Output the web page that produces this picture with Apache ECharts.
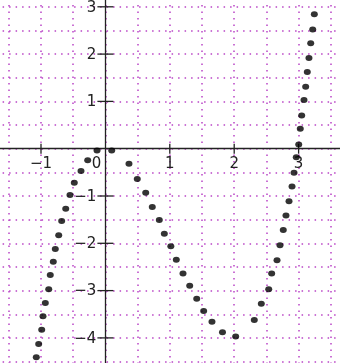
<!DOCTYPE html>
<html>
<head>
<meta charset="utf-8">
<script src="https://cdn.jsdelivr.net/npm/echarts@6/dist/echarts.min.js"></script>
<style>
  html, body { margin: 0; padding: 0; background: #fff; }
  #chart { width: 340px; height: 363px; }
</style>
</head>
<body>
<div id="chart"></div>
<script>
// Sampled points of the cubic, left to right
const xValues = [
  -1.073, -1.036, -0.989, -0.969, -0.933, -0.880, -0.856, -0.809, -0.778, -0.725,
  -0.679, -0.616, -0.550, -0.483, -0.379, -0.275, -0.130, 0.098, 0.366, 0.495,
  0.626, 0.728, 0.837, 0.915, 1.016, 1.101, 1.205, 1.309, 1.418, 1.526,
  1.655, 1.818, 2.023, 2.312, 2.421, 2.536, 2.582, 2.665, 2.711, 2.762,
  2.804, 2.851, 2.898, 2.929, 2.964, 3.002, 3.026, 3.048, 3.084, 3.110,
  3.135, 3.161, 3.188, 3.219, 3.244
];
const yValues = [
  -4.41, -4.13, -3.83, -3.54, -3.26, -2.97, -2.67, -2.39, -2.12, -1.83,
  -1.53, -1.27, -0.98, -0.72, -0.47, -0.245, -0.04, -0.04, -0.32, -0.64,
  -0.93, -1.23, -1.51, -1.80, -2.06, -2.35, -2.64, -2.90, -3.17, -3.43,
  -3.66, -3.88, -3.97, -3.62, -3.28, -2.97, -2.64, -2.36, -2.04, -1.72,
  -1.41, -1.11, -0.80, -0.51, -0.18, 0.09, 0.42, 0.70, 1.03, 1.31,
  1.62, 1.92, 2.23, 2.52, 2.84
];

// Tick labels drawn along the axes through the origin
const xTickValues = [-1, 0, 1, 2, 3];
const yTickValues = [-4, -3, -2, -1, 1, 2, 3];

// Axis ranges (the visible window is trimmed by the grid offsets)
const xRange = [-2, 4];
const yRange = [-5, 4];

const points = xValues.map((x, i) => [x, yValues[i]]);

const minus = v => (v < 0 ? '\u2212' + Math.abs(v) : String(v));

const gridDots = {
  show: true,
  lineStyle: { color: '#b944c6', width: 1.5, type: [1.5, 5] }
};
const INK = '#222';
const FONT = 'DejaVu Sans';
const FONT_SIZE = 15;

// Tick mark crossing the axis plus its label
function xTick(params, api) {
  const v = api.value(0);
  const p = api.coord([v, 0]);
  const children = [];
  if (v !== 0) {
    children.push({
      type: 'line',
      shape: { x1: p[0], y1: p[1] - 5, x2: p[0], y2: p[1] + 5 },
      style: { stroke: INK, lineWidth: 1.3 }
    });
  }
  children.push({
    type: 'text',
    style: {
      text: minus(v),
      x: v === 0 ? p[0] - 9 : p[0],
      y: p[1] + 8,
      align: 'center',
      verticalAlign: 'top',
      fontFamily: FONT,
      fontSize: FONT_SIZE,
      fill: INK
    }
  });
  return { type: 'group', children };
}

function yTick(params, api) {
  const v = api.value(1);
  const p = api.coord([0, v]);
  return {
    type: 'group',
    children: [
      {
        type: 'line',
        shape: { x1: p[0] - 8, y1: p[1], x2: p[0] + 8, y2: p[1] },
        style: { stroke: INK, lineWidth: 1.3 }
      },
      {
        type: 'text',
        style: {
          text: minus(v),
          x: p[0] - 9,
          y: p[1] + 1,
          align: 'right',
          verticalAlign: 'middle',
          fontFamily: FONT,
          fontSize: FONT_SIZE,
          fill: INK
        }
      }
    ]
  };
}

const chart = echarts.init(document.getElementById('chart'), null, { renderer: 'canvas' });

chart.setOption({
  animation: false,
  backgroundColor: '#fff',
  grid: {
    left: -23.4, right: -23, top: -40.5, bottom: -22.2,
    containLabel: false,
    outerBoundsMode: 'none'
  },
  xAxis: {
    type: 'value',
    min: xRange[0], max: xRange[1], interval: 1,
    axisLine: { onZero: true, lineStyle: { color: INK, width: 1.3 } },
    axisTick: { show: false },
    axisLabel: { show: false },
    splitLine: gridDots,
    minorTick: { show: false, splitNumber: 2 },
    minorSplitLine: gridDots
  },
  yAxis: {
    type: 'value',
    min: yRange[0], max: yRange[1], interval: 1,
    axisLine: { onZero: true, lineStyle: { color: INK, width: 1.3 } },
    axisTick: { show: false },
    axisLabel: { show: false },
    splitLine: gridDots,
    minorTick: { show: false, splitNumber: 2 },
    minorSplitLine: gridDots
  },
  series: [
    {
      type: 'custom',
      coordinateSystem: 'cartesian2d',
      data: xTickValues.map(v => [v, 0]),
      renderItem: xTick,
      clip: false,
      silent: true
    },
    {
      type: 'custom',
      coordinateSystem: 'cartesian2d',
      data: yTickValues.map(v => [0, v]),
      renderItem: yTick,
      clip: false,
      silent: true
    },
    {
      type: 'scatter',
      data: points,
      symbol: 'circle',
      symbolSize: [7, 6],
      itemStyle: { color: '#000' },
      clip: false
    }
  ]
});
</script>
</body>
</html>
